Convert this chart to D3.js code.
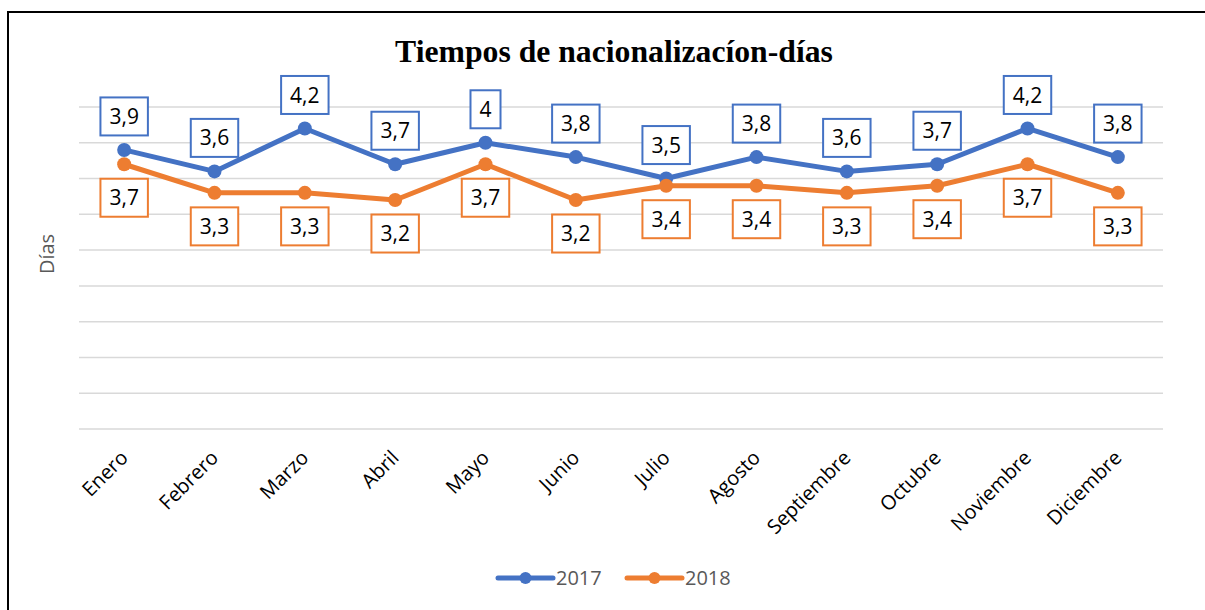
<!DOCTYPE html>
<html>
<head>
<meta charset="utf-8">
<script src="https://cdn.jsdelivr.net/npm/d3@7"></script>
<style>
  body { margin: 0; background: #fff; }
  text { font-family: "Open Sans", "Noto Sans", sans-serif; }
</style>
</head>
<body>
<script>
// datos
var meses = ["Enero", "Febrero", "Marzo", "Abril", "Mayo", "Junio", "Julio",
             "Agosto", "Septiembre", "Octubre", "Noviembre", "Diciembre"];
var valores2017 = [3.9, 3.6, 4.2, 3.7, 4.0, 3.8, 3.5, 3.8, 3.6, 3.7, 4.2, 3.8];
var valores2018 = [3.7, 3.3, 3.3, 3.2, 3.7, 3.2, 3.4, 3.4, 3.3, 3.4, 3.7, 3.3];
var gridTicks = [0, 0.5, 1, 1.5, 2, 2.5, 3, 3.5, 4, 4.5];

var series = [
  {name: "2017", values: valores2017, color: "#4472C4", labelDir: -1},
  {name: "2018", values: valores2018, color: "#ED7D31", labelDir: 1}
];

var W = 1205, H = 610;
var plot = {left: 79, right: 1163, top: 107, bottom: 429};

var svg = d3.select("body").append("svg")
    .attr("width", W)
    .attr("height", H);

svg.append("rect").attr("width", W).attr("height", H).attr("fill", "#fff");

// marco
svg.append("rect")
    .attr("x", 8).attr("y", 12)
    .attr("width", W + 20).attr("height", H + 20)
    .attr("fill", "none")
    .attr("stroke", "#000")
    .attr("stroke-width", 2);

var x = d3.scaleBand().domain(meses).range([plot.left, plot.right]);
var y = d3.scaleLinear().domain([0, 4.5]).range([plot.bottom, plot.top]);

// lineas de cuadricula
svg.append("g").selectAll("line")
    .data(gridTicks)
    .join("line")
    .attr("x1", plot.left).attr("x2", plot.right)
    .attr("y1", d => y(d)).attr("y2", d => y(d))
    .attr("stroke", "#d9d9d9")
    .attr("stroke-width", 1.5);

// titulo
svg.append("text")
    .attr("x", 614).attr("y", 62)
    .attr("text-anchor", "middle")
    .style("font-family", "'Liberation Serif', 'Times New Roman', serif")
    .style("font-weight", "bold")
    .style("font-size", "31.7px")
    .text("Tiempos de nacionalizacíon-días");

// titulo eje Y
svg.append("text")
    .attr("transform", "translate(54,254) rotate(-90)")
    .attr("text-anchor", "middle")
    .attr("fill", "#595959")
    .style("font-size", "20px")
    .text("Días");

// etiquetas eje X
svg.append("g").selectAll("text")
    .data(meses)
    .join("text")
    .attr("transform", d => "translate(" + (x(d) + x.bandwidth() / 2 + 5) + ",459) rotate(-45)")
    .attr("text-anchor", "end")
    .attr("fill", "#000")
    .style("font-size", "20px")
    .text(d => d);

var cx = i => x(meses[i]) + x.bandwidth() / 2;
var line = d3.line().x((d, i) => cx(i)).y(d => y(d));

series.forEach(s => {
  var g = svg.append("g");
  g.append("path")
      .datum(s.values)
      .attr("d", line)
      .attr("fill", "none")
      .attr("stroke", s.color)
      .attr("stroke-width", 5)
      .attr("stroke-linejoin", "round")
      .attr("stroke-linecap", "round");
  g.selectAll("circle")
      .data(s.values)
      .join("circle")
      .attr("cx", (d, i) => cx(i))
      .attr("cy", d => y(d))
      .attr("r", 7)
      .attr("fill", s.color);
});

// etiquetas de datos
var fmt = v => String(v).replace(".", ",");
series.forEach(s => {
  var lg = svg.append("g").selectAll("g")
      .data(s.values)
      .join("g")
      .attr("transform", (d, i) => "translate(" + cx(i) + "," + (y(d) + s.labelDir * 33.5) + ")");
  lg.each(function(d) {
    var g = d3.select(this);
    var t = g.append("text")
        .attr("text-anchor", "middle")
        .attr("dy", "0.36em")
        .attr("fill", "#000")
        .style("font-size", "21px")
        .text(fmt(d));
    var w = t.node().getComputedTextLength() + 18;
    g.insert("rect", "text")
        .attr("x", -w / 2).attr("y", -19)
        .attr("width", w).attr("height", 38)
        .attr("fill", "#fff")
        .attr("stroke", s.color)
        .attr("stroke-width", 2);
  });
});

// leyenda
var legX = [498, 627];
series.forEach((s, i) => {
  var g = svg.append("g").attr("transform", "translate(" + legX[i] + ",578)");
  g.append("line")
      .attr("x1", 0).attr("x2", 55)
      .attr("stroke", s.color)
      .attr("stroke-width", 5)
      .attr("stroke-linecap", "round");
  g.append("circle").attr("cx", 27.5).attr("r", 6).attr("fill", s.color);
  g.append("text")
      .attr("x", 58).attr("dy", "0.36em")
      .attr("fill", "#595959")
      .style("font-size", "20px")
      .text(s.name);
});
</script>
</body>
</html>
